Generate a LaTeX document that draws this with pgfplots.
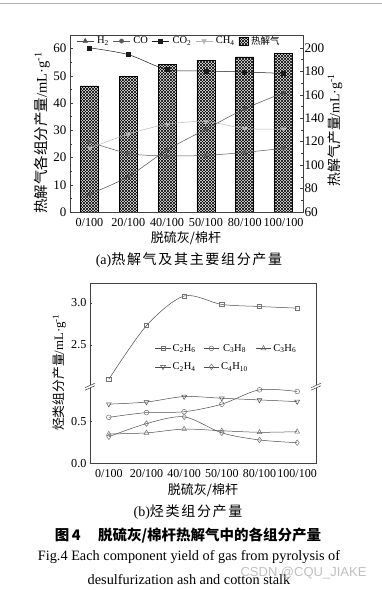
\documentclass[border=0pt]{standalone}
\usepackage{fontspec}
\setmainfont{Liberation Serif}
\newfontfamily\cjk{Noto Sans CJK SC}
\newfontfamily\cjksp[LetterSpace=12]{Noto Sans CJK SC}
\newfontfamily\wm{Liberation Sans}
\usepackage{pgfplots}
\pgfplotsset{compat=1.18}
\usetikzlibrary{patterns}
\pgfdeclarepatternformonly{mych}{\pgfqpoint{-1pt}{-1pt}}{\pgfqpoint{4pt}{4pt}}{\pgfqpoint{3pt}{3pt}}{%
  \pgfsetlinewidth{0.7pt}%
  \pgfpathmoveto{\pgfqpoint{0pt}{0pt}}\pgfpathlineto{\pgfqpoint{3.05pt}{3.05pt}}%
  \pgfpathmoveto{\pgfqpoint{0pt}{3pt}}\pgfpathlineto{\pgfqpoint{3.05pt}{-0.05pt}}%
  \pgfusepath{stroke}}
\definecolor{cH}{HTML}{505050}
\definecolor{cCO}{HTML}{5A5A5A}
\definecolor{cCOt}{HTML}{1A1A1A}
\definecolor{cCH}{HTML}{B4B4B4}
\definecolor{frame}{HTML}{404040}
\begin{document}
\begin{tikzpicture}
\path[use as bounding box] (0pt,0pt) rectangle (382pt,590pt);
\draw[gray!60, line width=0.8pt] (0pt,587pt) -- (382pt,587pt);

% ---------- panel (a) ----------
\begin{axis}[
  at={(70pt,378pt)}, anchor=south west, scale only axis,
  width=233pt, height=177pt,
  xmin=-0.5, xmax=5.5, ymin=0, ymax=65,
  axis line style={frame, line width=0.6pt},
  xtick={0,...,5},
  xticklabels={0/100,20/100,40/100,50/100,80/100,100/100},
  ytick={0,10,...,60},
  ytick pos=left, xtick pos=bottom,
  tick align=inside, major tick length=3pt, minor tick length=1.6pt,
  minor y tick num=1,
  tick style={frame, line width=0.5pt},
  major x tick style={draw=none},
  /pgf/number format/assume math mode=true,
  y tick label style={font=\fontsize{13}{13}\selectfont},
  x tick label style={font=\fontsize{12.2}{12}\selectfont, yshift=-3pt},
  legend columns=5,
  legend style={draw=none, fill=none, at={(0.468,0.966)}, anchor=center,
    font=\fontsize{10.5}{11}\selectfont, inner sep=0pt,
    /tikz/every even column/.append style={column sep=2pt},
    /tikz/every odd column/.append style={column sep=1pt}},
]
\addplot[ybar, bar width=18pt, draw=black, line width=0.5pt, pattern=mych, forget plot]
  coordinates {(0,46.3)(1,49.8)(2,54.3)(3,55.7)(4,57.0)(5,58.3)};
\addplot[smooth, color=cH, line width=0.5pt, mark=triangle*, mark size=2.6pt, mark options={solid}]
  coordinates {(0,6.5)(1,13.0)(2,22.8)(3,30.4)(4,37.9)(5,43.8)};
\addlegendentry{H\textsubscript{2}}
\addplot[smooth, color=cCO, line width=0.5pt, mark=*, mark size=2.1pt]
  coordinates {(0,25.8)(1,21.5)(2,20.6)(3,20.8)(4,21.9)(5,23.4)};
\addlegendentry{CO}
\addplot[smooth, color=cCOt, line width=0.5pt, mark=square*, mark size=2pt]
  coordinates {(0,60.3)(1,57.8)(2,52.3)(3,51.8)(4,51.4)(5,50.9)};
\addlegendentry{CO\textsubscript{2}}
\addplot[smooth, color=cCH, line width=0.5pt, mark=triangle*, mark size=2.6pt, mark options={rotate=180}]
  coordinates {(0,23.4)(1,28.6)(2,32.2)(3,33.2)(4,30.7)(5,30.4)};
\addlegendentry{CH\textsubscript{4}}
\addlegendimage{legend image code/.code={\draw[draw=black, line width=0.5pt, pattern=mych] (0pt,-4pt) rectangle (9pt,4pt);}}
\addlegendentry{{\cjk\fontsize{9.5}{10}\selectfont 热解气}}
\end{axis}
\begin{axis}[
  at={(70pt,378pt)}, anchor=south west, scale only axis,
  width=233pt, height=177pt,
  xmin=-0.5, xmax=5.5, ymin=60, ymax=211,
  axis x line=none, axis y line*=right,
  axis line style={frame, line width=0.6pt},
  ytick={60,80,...,200},
  tick align=inside, major tick length=3pt, minor tick length=1.6pt,
  minor y tick num=1,
  tick style={frame, line width=0.5pt},
  /pgf/number format/assume math mode=true,
  y tick label style={font=\fontsize{13.2}{13}\selectfont, xshift=-2pt},
]
\end{axis}
\node[rotate=90, font=\fontsize{14.5}{15}\selectfont] at (42pt,457pt) {{\cjk 热解气各组分产量}/mL·g\textsuperscript{-1}};
\node[rotate=90, font=\fontsize{13.8}{14}\selectfont] at (335pt,460pt) {{\cjk 热解气产量}/mL·g\textsuperscript{-1}};
\node[font=\cjk\fontsize{13}{13}\selectfont] at (186pt,351.7pt) {脱硫灰/棉杆};
\node[font=\fontsize{14}{14}\selectfont] at (189pt,330pt) {(a){\cjksp 热解气及其主要组分产量}};

% ---------- panel (b) ----------
\begin{axis}[
  at={(90pt,126.7pt)}, anchor=south west, scale only axis,
  width=226pt, height=180.3pt,
  xmin=-0.5, xmax=5.5, ymin=0, ymax=2.134,
  axis line style={frame, line width=0.6pt},
  xtick={0,...,5},
  xticklabels={0/100,20/100,40/100,50/100,80/100,100/100},
  ytick={0,0.5,1.4,1.9}, yticklabels={0.0,0.5,2.5,3.0},
  ytick pos=left, xtick pos=bottom,
  tick align=inside, major tick length=2pt,
  tick style={frame, line width=0.4pt},
  major x tick style={draw=none},
  y tick label style={font=\fontsize{12.2}{12}\selectfont},
  x tick label style={font=\fontsize{12}{12}\selectfont, yshift=-3pt},
  legend columns=3,
  legend style={draw=none, fill=none, at={(0.605,0.586)}, anchor=center,
    font=\fontsize{10.5}{11}\selectfont, inner sep=0pt, row sep=6pt,
    /tikz/every even column/.append style={column sep=6pt}},
  legend image code/.code={\draw[#1, mark repeat=2, mark phase=2] plot coordinates {(0pt,0pt)(7.5pt,0pt)(15pt,0pt)};},
  every axis plot/.append style={smooth, color=black!70, line width=0.5pt, mark size=2.4pt, mark options={fill=white, draw=black!55, solid}},
]
\addplot[mark=square, mark size=2.1pt, y filter/.expression={y-1.1}]
  coordinates {(0,2.095)(1,2.73)(2,3.08)(3,2.98)(4,2.956)(5,2.936)};
\addlegendentry{C\textsubscript{2}H\textsubscript{6}}
\addplot[mark=o]
  coordinates {(0,0.544)(1,0.60)(2,0.61)(3,0.70)(4,0.87)(5,0.85)};
\addlegendentry{C\textsubscript{3}H\textsubscript{8}}
\addplot[mark=triangle, mark size=2.8pt]
  coordinates {(0,0.347)(1,0.36)(2,0.405)(3,0.385)(4,0.367)(5,0.374)};
\addlegendentry{C\textsubscript{3}H\textsubscript{6}}
\addplot[mark=triangle, mark size=2.8pt, mark options={rotate=180}]
  coordinates {(0,0.70)(1,0.725)(2,0.79)(3,0.77)(4,0.75)(5,0.73)};
\addlegendentry{C\textsubscript{2}H\textsubscript{4}}
\addplot[mark=diamond, mark size=2.8pt]
  coordinates {(0,0.315)(1,0.47)(2,0.55)(3,0.36)(4,0.276)(5,0.244)};
\addlegendentry{C\textsubscript{4}H\textsubscript{10}}
\end{axis}
% axis break marks
\foreach \bx in {90,316}{
  \fill[white] (\bx pt-5pt,199.8pt) -- (\bx pt+5pt,204.3pt) -- (\bx pt+5pt,206.8pt) -- (\bx pt-5pt,202.3pt) -- cycle;
  \draw[frame, line width=0.5pt] (\bx pt-5pt,199.8pt) -- (\bx pt+5pt,204.3pt);
  \draw[frame, line width=0.5pt] (\bx pt-5pt,202.3pt) -- (\bx pt+5pt,206.8pt);
}
\node[rotate=90, font=\fontsize{12.8}{13}\selectfont] at (59pt,217.5pt) {{\cjk 烃类组分产量}/mL·g\textsuperscript{-1}};
\node[font=\cjk\fontsize{13}{13}\selectfont] at (203pt,100pt) {脱硫灰/棉杆};
\node[font=\fontsize{14}{14}\selectfont] at (188pt,78.3pt) {(b){\cjksp 烃类组分产量}};

% ---------- captions ----------
\node[font=\cjk\bfseries\fontsize{14.5}{15}\selectfont] at (188pt,54pt) {图\,4\hspace{1.2em}脱硫灰/棉杆热解气中的各组分产量};
\node[font=\fontsize{14.3}{15}\selectfont] at (189pt,33.3pt) {Fig.4 Each component yield of gas from pyrolysis of};
\node[font=\fontsize{14.3}{15}\selectfont] at (189pt,10pt) {desulfurization ash and cotton stalk};
\node[font=\wm\fontsize{13}{13}\selectfont, text=gray!55, opacity=0.9] at (303.5pt,17.3pt) {CSDN @CQU\_JIAKE};
\end{tikzpicture}
\end{document}
